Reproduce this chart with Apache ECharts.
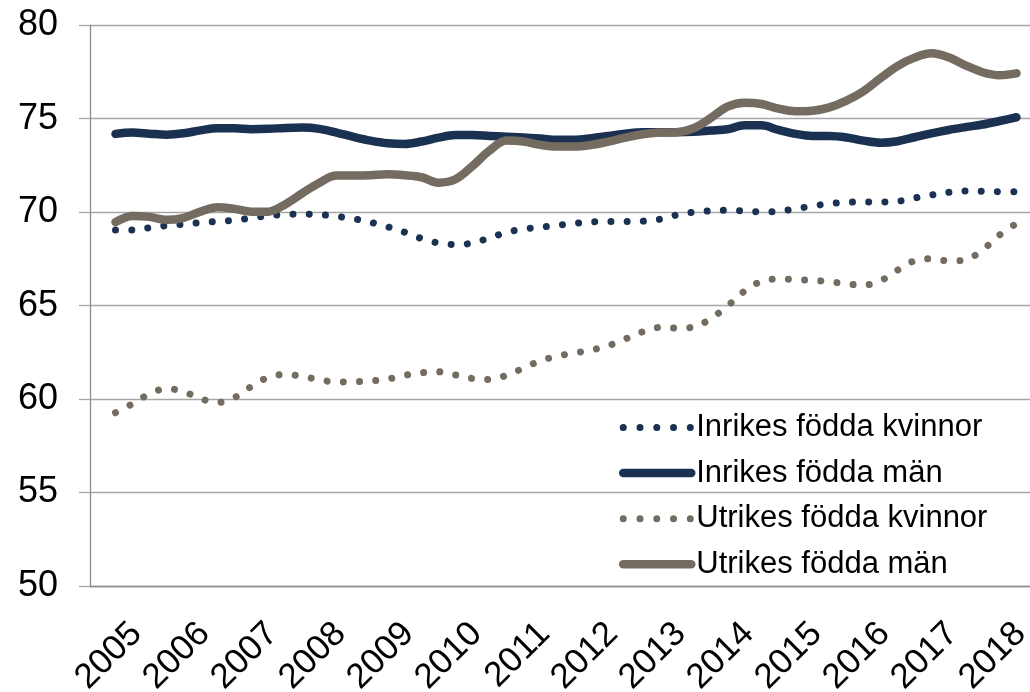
<!DOCTYPE html>
<html><head><meta charset="utf-8">
<script src="https://cdn.jsdelivr.net/npm/echarts@6/dist/echarts.min.js"></script>
<style>html,body{margin:0;padding:0;background:#fff;overflow:hidden}#c{width:1030px;height:692px}</style>
</head><body><div id="c"></div>
<script>
const years = ['2005','2006','2007','2008','2009','2010','2011','2012','2013','2014','2015','2016','2017','2018'];
const quarters = ['K1','K2','K3','K4'];
const yTicks = {min: 50, max: 80, interval: 5};
const seriesNames = ['Inrikes födda kvinnor','Inrikes födda män','Utrikes födda kvinnor','Utrikes födda män'];
// values from 2005 K2 to 2018 K3
const inrikesKvinnor = [69.05,69.05,69.17,69.28,69.36,69.44,69.51,69.57,69.69,69.81,
  69.88,69.90,69.87,69.78,69.65,69.46,69.22,68.93,68.59,68.35,
  68.27,68.35,68.63,68.92,69.10,69.20,69.30,69.40,69.48,69.50,
  69.50,69.52,69.62,69.85,70.00,70.07,70.10,70.07,70.02,70.05,
  70.18,70.33,70.46,70.53,70.55,70.54,70.58,70.76,70.92,71.06,
  71.13,71.12,71.10,71.10];
const inrikesMan = [74.19,74.26,74.20,74.15,74.22,74.38,74.49,74.49,74.44,74.46,
  74.51,74.53,74.46,74.26,74.03,73.83,73.69,73.65,73.78,73.99,
  74.13,74.13,74.08,74.04,74.00,73.94,73.87,73.87,73.96,74.08,
  74.20,74.28,74.28,74.28,74.30,74.37,74.44,74.65,74.65,74.40,
  74.19,74.08,74.08,74.00,73.83,73.72,73.80,74.01,74.22,74.40,
  74.55,74.69,74.88,75.08];
const utrikesKvinnor = [59.27,59.75,60.28,60.56,60.40,60.03,59.82,60.09,60.68,61.17,
  61.32,61.22,61.03,60.92,60.93,60.97,61.07,61.27,61.41,61.46,
  61.29,61.10,61.05,61.27,61.66,62.05,62.30,62.47,62.63,62.86,
  63.22,63.60,63.83,63.80,63.85,64.30,64.98,65.78,66.30,66.43,
  66.40,66.35,66.29,66.16,66.10,66.33,66.90,67.40,67.51,67.39,
  67.45,67.98,68.78,69.40];
const utrikesMan = [69.47,69.80,69.75,69.59,69.70,70.03,70.27,70.18,70.02,70.03,
  70.43,71.02,71.58,71.96,71.96,71.98,72.03,71.98,71.87,71.58,
  71.76,72.47,73.29,73.83,73.78,73.60,73.51,73.51,73.60,73.78,
  73.99,74.17,74.26,74.28,74.49,75.03,75.65,75.86,75.79,75.54,
  75.40,75.43,75.61,75.97,76.47,77.17,77.82,78.27,78.50,78.29,
  77.86,77.49,77.33,77.43];

const categories = [];
years.forEach(y => quarters.forEach(q => categories.push(y + ' ' + q)));
const pad = arr => [null].concat(arr, [null]);

const NAVY = '#1b3152', GREY = '#746c60';
const FONT = "'Liberation Sans', Arial, sans-serif";
const dotted = c => ({color: c, width: 7, type: [0.01, 16.2], cap: 'round', join: 'round'});
const solid = c => ({color: c, width: 8.5, cap: 'round', join: 'round'});
const styles = [dotted(NAVY), solid(NAVY), dotted(GREY), solid(GREY)];
const dataSets = [inrikesKvinnor, inrikesMan, utrikesKvinnor, utrikesMan];
const colors = [NAVY, NAVY, GREY, GREY];

const chart = echarts.init(document.getElementById('c'));
chart.setOption({
  animation: false,
  backgroundColor: '#fff',
  grid: {left: 90, top: 25.3, width: 952, height: 560.7, containLabel: false, outerBoundsMode: 'none'},
  legend: {
    orient: 'vertical', left: 619, top: 412, padding: 0,
    itemWidth: 68, itemHeight: 14, itemGap: 14.6,
    selectedMode: false,
    textStyle: {fontSize: 31, lineHeight: 30, color: '#000', fontFamily: FONT},
    data: seriesNames.map((n, i) => ({name: n,
      itemStyle: {opacity: 0},
      lineStyle: i % 2 === 0
      ? {color: colors[i], width: 7, type: [0.01, 16.75], cap: 'round'}
      : {color: colors[i], width: 8.5, type: 'solid', cap: 'round'}}))
  },
  xAxis: [{
    type: 'category', data: categories, boundaryGap: true,
    axisLine: {lineStyle: {color: '#8c8c8c', width: 1.3}},
    axisTick: {interval: 3, length: 10, lineStyle: {color: '#8c8c8c', width: 1.3}},
    axisLabel: {show: false}, splitLine: {show: false}
  }, {
    type: 'category', data: years, boundaryGap: true, position: 'bottom',
    axisLine: {show: false}, axisTick: {show: false}, splitLine: {show: false},
    axisLabel: {interval: 0, rotate: 45, fontSize: 35, color: '#000', fontFamily: FONT,
      align: 'right', verticalAlign: 'top', margin: 30}
  }],
  yAxis: {
    type: 'value', min: yTicks.min, max: yTicks.max, interval: yTicks.interval,
    axisLine: {show: true, lineStyle: {color: '#8c8c8c', width: 1.3}},
    axisTick: {show: true, length: 11, lineStyle: {color: '#a6a6a6', width: 1.3}},
    axisLabel: {fontSize: 36, color: '#000', fontFamily: FONT, margin: 32},
    splitLine: {lineStyle: {color: '#a6a6a6', width: 1.3}}
  },
  series: seriesNames.map((n, i) => ({
    name: n, type: 'line', xAxisIndex: 0, data: pad(dataSets[i]),
    smooth: 0.35, symbol: 'none', showSymbol: false, color: colors[i],
    lineStyle: styles[i]
  }))
});
</script></body></html>
